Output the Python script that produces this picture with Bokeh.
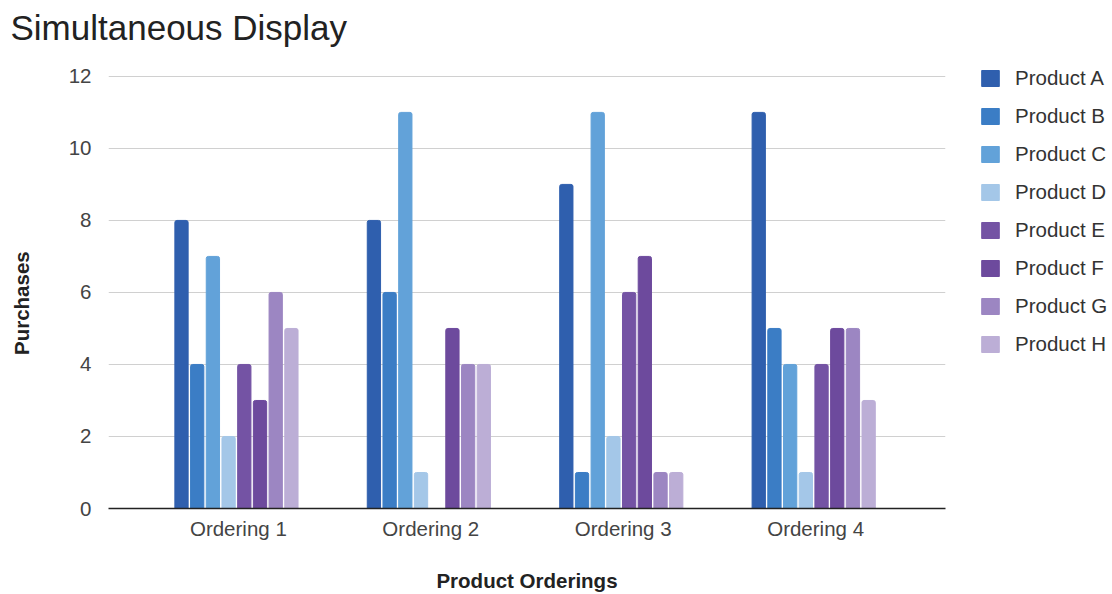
from bokeh.plotting import figure
from bokeh.models import FactorRange, Range1d, FixedTicker, Legend, LegendItem, ColumnDataSource
from bokeh.transform import dodge
from bokeh.layouts import row
from bokeh.embed import file_html
from bokeh.resources import INLINE

orderings = ["Ordering 1", "Ordering 2", "Ordering 3", "Ordering 4"]
products = ["Product A", "Product B", "Product C", "Product D",
            "Product E", "Product F", "Product G", "Product H"]
product_a = [8, 8, 9, 11]
product_b = [4, 6, 1, 5]
product_c = [7, 11, 11, 4]
product_d = [2, 1, 2, 1]
product_e = [4, 0, 6, 4]
product_f = [3, 5, 7, 5]
product_g = [6, 4, 1, 5]
product_h = [5, 4, 1, 3]
y_ticks = [0, 2, 4, 6, 8, 10, 12]

series = [product_a, product_b, product_c, product_d,
          product_e, product_f, product_g, product_h]
colors = ["#2f5fae", "#3b7dc5", "#62a2d9", "#a4c7e8",
          "#7453a4", "#6d4a9d", "#9c86c2", "#bcaed6"]

FONT = "Liberation Sans"
FS = "20.5px"

# main chart: frame spans x 108..945, y 46..510 (value 12 sits at y=76)
p = figure(x_range=FactorRange(factors=orderings, range_padding=0.0875),
           y_range=Range1d(0, 12.83),
           width=960, height=594, output_backend="svg", toolbar_location=None,
           min_border_left=108, min_border_right=15,
           min_border_top=46, min_border_bottom=84)

step = 0.0816
bw = 0.069
for i, (name, vals, col) in enumerate(zip(products, series, colors)):
    src = ColumnDataSource(dict(x=orderings, y=vals))
    off = (i - 3.5) * step - 0.01
    p.vbar(x=dodge("x", off, range=p.x_range), top="y", width=bw, source=src,
           fill_color=col, line_color=col, line_width=1,
           border_radius=(2, 2, 0, 0))

p.outline_line_color = None
p.xgrid.grid_line_color = None
p.ygrid.ticker = FixedTicker(ticks=y_ticks)
p.ygrid.grid_line_color = "#d0d0d0"
p.ygrid.grid_line_width = 1.2

p.yaxis.ticker = FixedTicker(ticks=y_ticks)
p.yaxis.axis_line_color = None
p.yaxis.major_tick_line_color = None
p.yaxis.minor_tick_line_color = None
p.yaxis.major_label_standoff = 11
p.yaxis.major_label_text_font = FONT
p.yaxis.major_label_text_font_size = FS
p.yaxis.major_label_text_color = "#444444"
p.yaxis.axis_label = "Purchases" + "\u00a0" * 9
p.yaxis.axis_label_text_font = FONT
p.yaxis.axis_label_text_font_size = FS
p.yaxis.axis_label_text_font_style = "bold"
p.yaxis.axis_label_text_color = "#222222"
p.yaxis.axis_label_standoff = 33

p.xaxis.axis_line_color = "#222222"
p.xaxis.axis_line_width = 1.5
p.xaxis.major_tick_line_color = None
p.xaxis.minor_tick_line_color = None
p.xaxis.major_label_standoff = 2
p.xaxis.major_label_text_font = FONT
p.xaxis.major_label_text_font_size = FS
p.xaxis.major_label_text_color = "#444444"
p.xaxis.axis_label = "Product Orderings"
p.xaxis.axis_label_text_font = FONT
p.xaxis.axis_label_text_font_size = FS
p.xaxis.axis_label_text_font_style = "bold"
p.xaxis.axis_label_text_color = "#222222"
p.xaxis.axis_label_standoff = 26

p.title.text = "Simultaneous Display"
p.title.align = "left"
p.title.vertical_align = "bottom"
p.title.offset = -98
p.title.standoff = 0
p.title.text_font = FONT
p.title.text_font_size = "35px"
p.title.text_font_style = "normal"
p.title.text_color = "#222222"

# legend panel
lf = figure(width=152, height=594, output_backend="svg", toolbar_location=None,
            x_range=Range1d(0, 1), y_range=Range1d(0, 1),
            x_axis_type=None, y_axis_type=None,
            min_border=0, min_border_left=0, min_border_right=0,
            min_border_top=0, min_border_bottom=0)
lf.outline_line_color = None
lf.grid.grid_line_color = None
items = []
for name, col in zip(products, colors):
    r = lf.vbar(x=[5], top=[5], bottom=[4], width=0.1, fill_color=col, line_color=col)
    items.append(LegendItem(label=name, renderers=[r]))

lg = Legend(items=items, location=(19, 152))
lg.padding = 0
lg.margin = 0
lg.border_line_color = None
lg.background_fill_alpha = 0
lg.glyph_width = 22
lg.glyph_height = 20
lg.label_height = 20
lg.spacing = 14
lg.label_standoff = 14
lg.label_text_font = FONT
lg.label_text_font_size = FS
lg.label_text_color = "#333333"
lf.add_layout(lg, "center")

layout = row(p, lf, spacing=0)
open("out.html", "w").write(file_html(layout, INLINE))
